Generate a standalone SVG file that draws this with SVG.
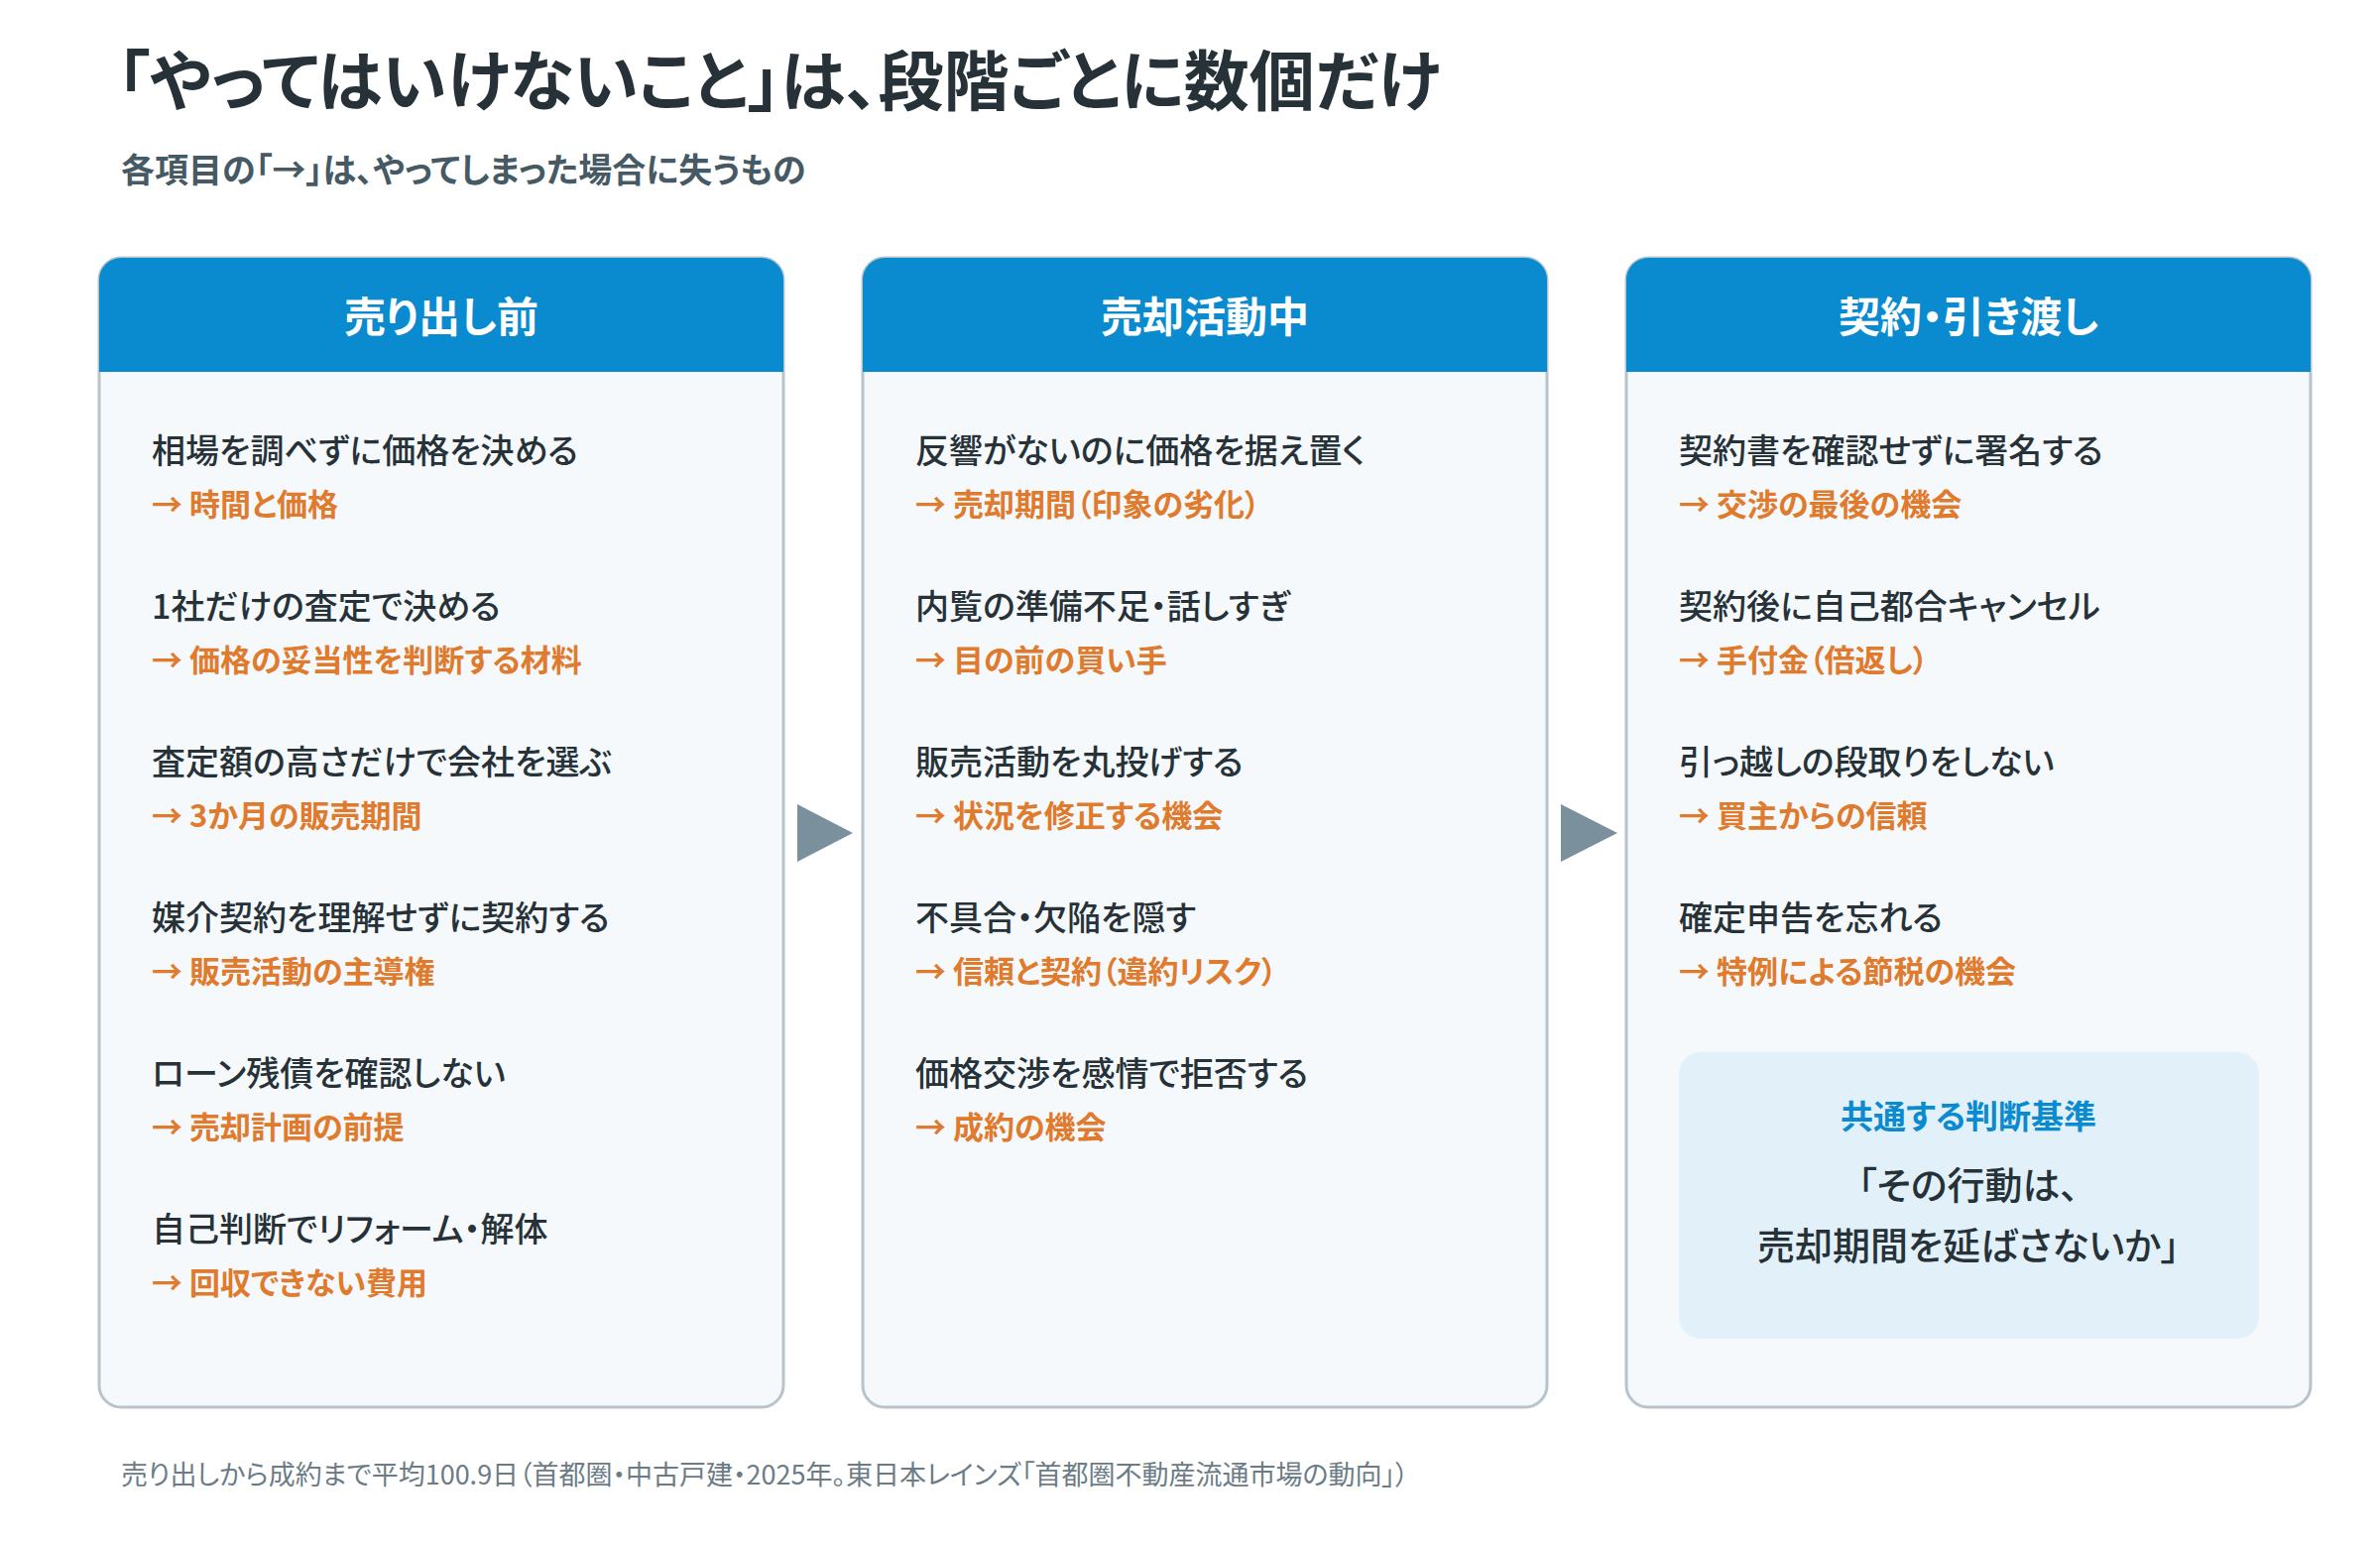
<svg xmlns="http://www.w3.org/2000/svg" width="2400" height="1560" viewBox="0 0 2400 1560">
<style>
text{font-family:"Noto Sans CJK JP","Noto Sans",sans-serif;font-feature-settings:"palt";}
.panel{fill:#F5F9FC;stroke:#B8C4CC;stroke-width:3}
.hdr{fill:#0A8BD0}
.ht{fill:#fff;font-size:42px;font-weight:700;text-anchor:middle}
.it{fill:#263238;font-size:34px;font-weight:500}
.sub{fill:#E07A2C;font-size:31px;font-weight:700}
.tri{fill:#7A909C}
</style>
<rect width="2400" height="1560" fill="#fff"/>
<text x="118" y="106" font-size="66" font-weight="700" fill="#263238">「やってはいけないこと」は、段階ごとに数個だけ</text>
<text x="122" y="184" font-size="34" font-weight="700" fill="#455A64">各項目の「→」は、やってしまった場合に失うもの</text>

<g id="panel1">
<rect class="panel" x="100" y="260" width="690" height="1159" rx="22"/>
<path class="hdr" d="M100,375 V282 a22,22 0 0 1 22,-22 H768 a22,22 0 0 1 22,22 V375 Z"/>
<text class="ht" x="445" y="335">売り出し前</text>
<text class="it" x="153" y="467">相場を調べずに価格を決める</text><text class="sub" x="153" y="520">→ 時間と価格</text>
<text class="it" x="153" y="624">1社だけの査定で決める</text><text class="sub" x="153" y="677">→ 価格の妥当性を判断する材料</text>
<text class="it" x="153" y="781">査定額の高さだけで会社を選ぶ</text><text class="sub" x="153" y="834">→ 3か月の販売期間</text>
<text class="it" x="153" y="938">媒介契約を理解せずに契約する</text><text class="sub" x="153" y="991">→ 販売活動の主導権</text>
<text class="it" x="153" y="1095">ローン残債を確認しない</text><text class="sub" x="153" y="1148">→ 売却計画の前提</text>
<text class="it" x="153" y="1252">自己判断でリフォーム・解体</text><text class="sub" x="153" y="1305">→ 回収できない費用</text>
</g>

<g id="panel2">
<rect class="panel" x="870" y="260" width="690" height="1159" rx="22"/>
<path class="hdr" d="M870,375 V282 a22,22 0 0 1 22,-22 H1538 a22,22 0 0 1 22,22 V375 Z"/>
<text class="ht" x="1215" y="335">売却活動中</text>
<text class="it" x="923" y="467">反響がないのに価格を据え置く</text><text class="sub" x="923" y="520">→ 売却期間（印象の劣化）</text>
<text class="it" x="923" y="624">内覧の準備不足・話しすぎ</text><text class="sub" x="923" y="677">→ 目の前の買い手</text>
<text class="it" x="923" y="781">販売活動を丸投げする</text><text class="sub" x="923" y="834">→ 状況を修正する機会</text>
<text class="it" x="923" y="938">不具合・欠陥を隠す</text><text class="sub" x="923" y="991">→ 信頼と契約（違約リスク）</text>
<text class="it" x="923" y="1095">価格交渉を感情で拒否する</text><text class="sub" x="923" y="1148">→ 成約の機会</text>
</g>

<g id="panel3">
<rect class="panel" x="1640" y="260" width="690" height="1159" rx="22"/>
<path class="hdr" d="M1640,375 V282 a22,22 0 0 1 22,-22 H2308 a22,22 0 0 1 22,22 V375 Z"/>
<text class="ht" x="1985" y="335">契約・引き渡し</text>
<text class="it" x="1693" y="467">契約書を確認せずに署名する</text><text class="sub" x="1693" y="520">→ 交渉の最後の機会</text>
<text class="it" x="1693" y="624">契約後に自己都合キャンセル</text><text class="sub" x="1693" y="677">→ 手付金（倍返し）</text>
<text class="it" x="1693" y="781">引っ越しの段取りをしない</text><text class="sub" x="1693" y="834">→ 買主からの信頼</text>
<text class="it" x="1693" y="938">確定申告を忘れる</text><text class="sub" x="1693" y="991">→ 特例による節税の機会</text>
</g>

<g id="callout">
<rect x="1693" y="1061" width="585" height="289" rx="22" fill="#E2F0FA"/>
<text x="1985" y="1138" font-size="33" font-weight="700" fill="#0A8BD0" text-anchor="middle">共通する判断基準</text>
<text x="1985" y="1209" font-size="38" font-weight="500" fill="#263238" text-anchor="middle">「その行動は、</text>
<text x="1985" y="1270" font-size="38" font-weight="500" fill="#263238" text-anchor="middle">売却期間を延ばさないか」</text>
</g>

<g id="connectors">
<polygon class="tri" points="804,811 860,840 804,869"/>
<polygon class="tri" points="1574,811 1631,840 1574,869"/>
</g>

<text x="122" y="1497" font-size="27" fill="#6B7C86">売り出しから成約まで平均100.9日（首都圏・中古戸建・2025年。東日本レインズ「首都圏不動産流通市場の動向」）</text>
</svg>
